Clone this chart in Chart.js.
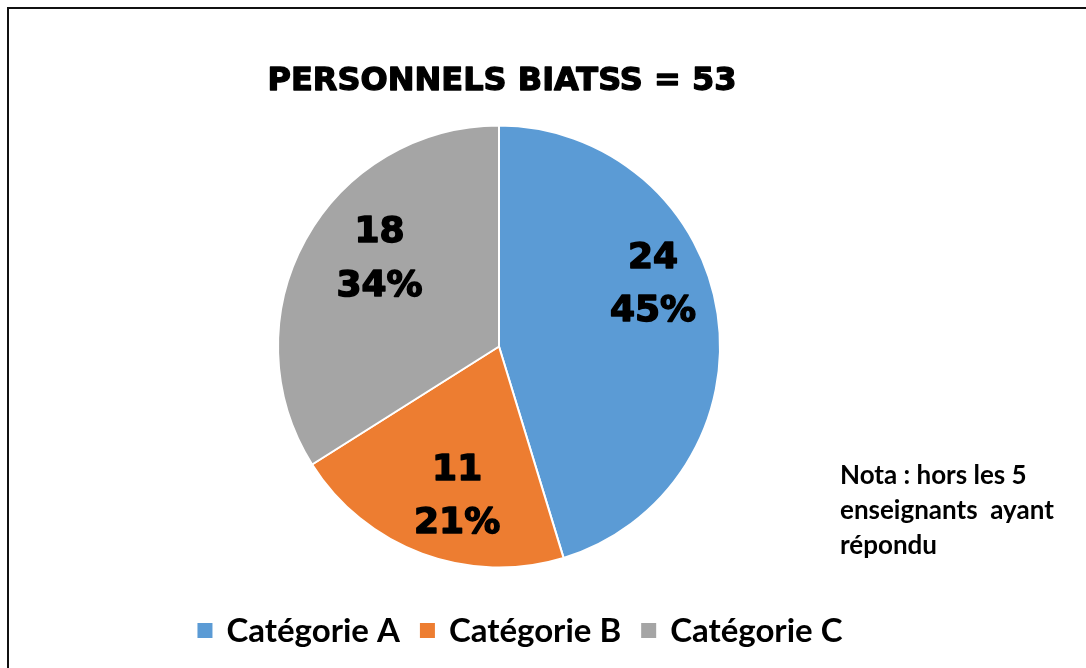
<!DOCTYPE html>
<html lang="fr">
<head>
    <meta charset="UTF-8">
    <title>Personnels BIATSS</title>
    <script src="https://cdn.jsdelivr.net/npm/chart.js"></script>
    <style>
        html, body { margin: 0; padding: 0; background: #fff; overflow: hidden; }
        #wrap { position: relative; width: 1086px; height: 668px; }
        #frame { position: absolute; left: 7px; top: 7px; width: 1100px; height: 700px; border: 2px solid #111; box-sizing: border-box; }
        canvas { position: absolute; left: 0; top: 0; }
    </style>
</head>
<body>
    <div id="wrap">
        <div id="frame"></div>
        <canvas id="pieChart" width="1086" height="668"></canvas>
    </div>

    <script>
        // data
        const categories = ['Catégorie A', 'Catégorie B', 'Catégorie C'];
        const counts = [24, 11, 18];
        const colors = ['#5B9BD5', '#ED7D31', '#A5A5A5'];
        const titleText = 'PERSONNELS BIATSS = 53';
        const noteLines = ['Nota : hors les 5', 'enseignants  ayant', 'répondu'];

        const total = counts.reduce((a, b) => a + b, 0);
        const percents = counts.map(v => Math.round(v / total * 100) + '%');

        // small nudges so the labels sit like the original (px)
        const labelNudge = [[1, -42], [12, 2], [16, -16]];

        // heavy text: fill + thin stroke, the original uses a black-weight font
        function heavyText(ctx, txt, x, y, w) {
            ctx.lineWidth = w;
            ctx.lineJoin = 'round';
            ctx.strokeText(txt, x, y);
            ctx.fillText(txt, x, y);
        }

        // title + value/percent inside each slice
        const sliceLabels = {
            id: 'sliceLabels',
            afterDatasetsDraw(chart) {
                const ctx = chart.ctx;
                const meta = chart.getDatasetMeta(0);
                ctx.save();
                ctx.fillStyle = '#000';
                ctx.strokeStyle = '#000';
                ctx.textAlign = 'center';
                ctx.textBaseline = 'alphabetic';

                ctx.font = 'bold 32px "DejaVu Sans"';
                heavyText(ctx, titleText, meta.data[0].x + 3, 90, 1.3);

                ctx.font = 'bold 36px "DejaVu Sans"';
                meta.data.forEach((arc, i) => {
                    const p = arc.getProps(['x', 'y', 'startAngle', 'endAngle', 'outerRadius'], true);
                    const mid = (p.startAngle + p.endAngle) / 2;
                    const r = p.outerRadius * 0.7;
                    const cx = p.x + Math.cos(mid) * r + labelNudge[i][0];
                    const cy = p.y + Math.sin(mid) * r + labelNudge[i][1];
                    heavyText(ctx, String(counts[i]), cx, cy - 26.7 + 13.1, 1.5);
                    heavyText(ctx, percents[i], cx, cy + 26.7 + 13.1, 1.5);
                });
                ctx.restore();
            }
        };

        // legend at the bottom and the side note
        const extras = {
            id: 'extras',
            afterDraw(chart) {
                const ctx = chart.ctx;
                ctx.save();
                ctx.font = 'bold 33px Lato';
                ctx.textBaseline = 'alphabetic';
                const box = 15, gap = 14, itemGap = 20;
                const widths = categories.map(c => ctx.measureText(c).width);
                const full = widths.reduce((a, w) => a + box + gap + w, 0) + itemGap * (categories.length - 1);
                let x = 520 - full / 2;
                categories.forEach((c, i) => {
                    ctx.fillStyle = colors[i];
                    ctx.fillRect(x, 623, box, box);
                    ctx.fillStyle = '#000';
                    ctx.fillText(c, x + box + gap, 642);
                    x += box + gap + widths[i] + itemGap;
                });

                ctx.font = 'bold 26px Lato';
                noteLines.forEach((line, i) => {
                    ctx.fillText(line, 840, 484 + i * 35);
                });
                ctx.restore();
            }
        };

        new Chart(document.getElementById('pieChart'), {
            type: 'pie',
            data: {
                labels: categories,
                datasets: [{
                    data: counts,
                    backgroundColor: colors,
                    borderColor: '#fff',
                    borderWidth: 2,
                    hoverOffset: 0
                }]
            },
            options: {
                responsive: false,
                animation: false,
                radius: 221,
                layout: { padding: { left: 59, right: 147, top: 98, bottom: 73 } },
                plugins: {
                    legend: { display: false },
                    tooltip: { enabled: false },
                    title: { display: false }
                }
            },
            plugins: [sliceLabels, extras]
        });
    </script>
</body>
</html>
